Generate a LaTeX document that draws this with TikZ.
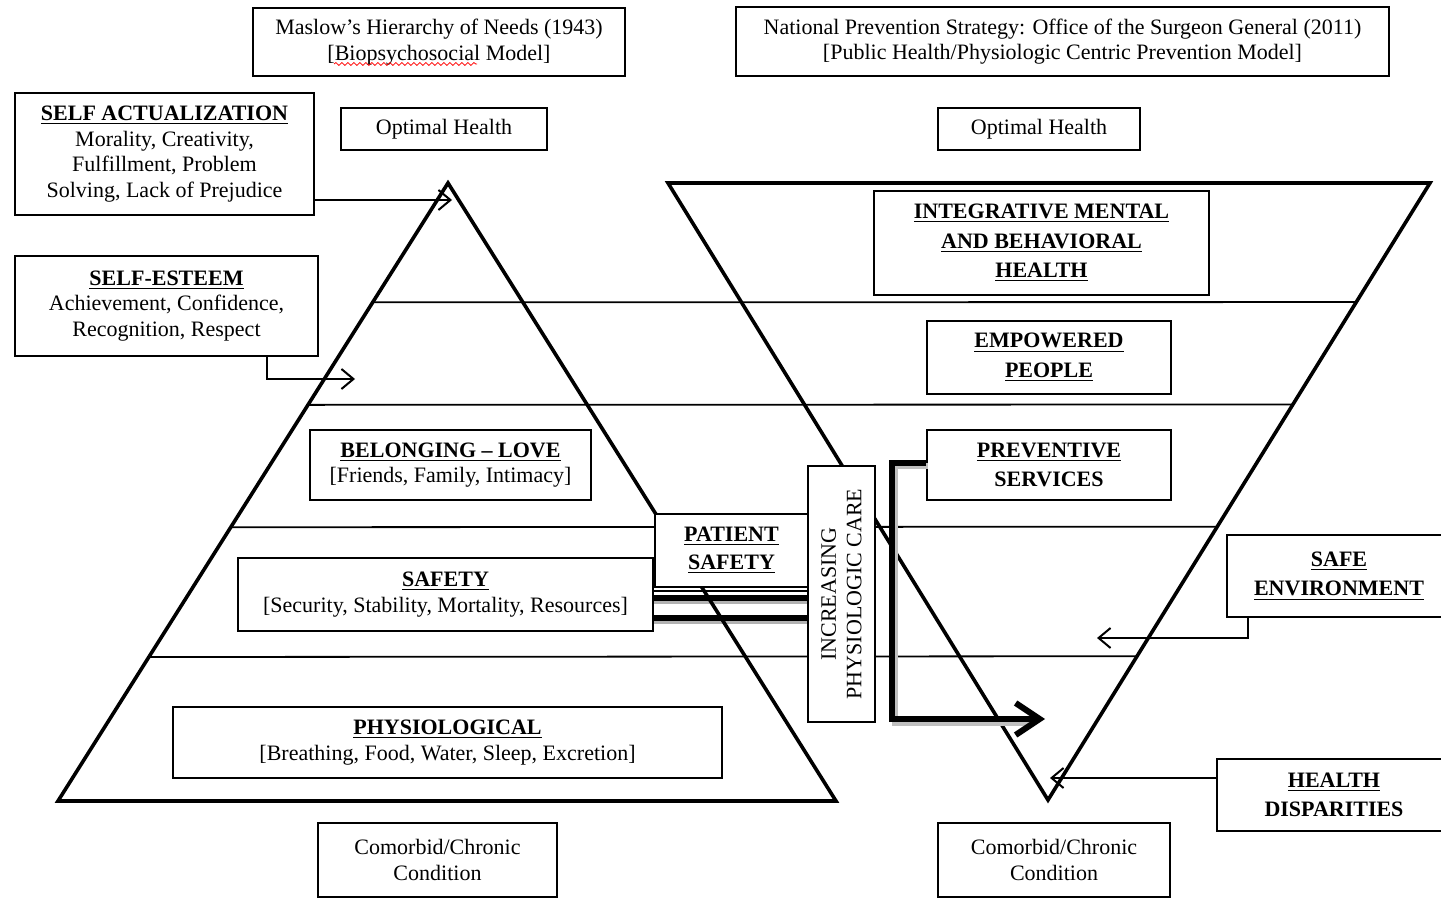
\documentclass[tikz,border=0pt]{standalone}
\usepackage{fontspec}
\setmainfont{Liberation Serif}
\usetikzlibrary{arrows.meta,calc,decorations.pathmorphing}

\begin{document}
\begin{tikzpicture}[x=0.5pt,y=-0.5pt,
	font=\fontsize{11pt}{12.8pt}\selectfont,
	box/.style={draw,fill=white,line width=0.9pt,align=center,inner sep=0pt},
	band/.style={line width=0.9pt},
	side/.style={line width=1.8pt,line join=miter},
	wide/.style={line width=3pt},
	barb/.style={-{Straight Barb[length=6pt,width=10pt]},line width=1pt},
	bigarrow/.style={-{Straight Barb[length=12pt,width=16pt]},line width=3pt,line join=miter}]
\useasboundingbox (0,0) rectangle (1441,898);
%
	\coordinate (apexL) at (448,183);
	\coordinate (baseLL) at (58,801);
	\coordinate (baseLR) at (836,801);
	\coordinate (topRL) at (668,183);
	\coordinate (topRR) at (1430,183);
	\coordinate (apexR) at (1048,800);
%
	\foreach \t in {0.193,0.359,0.557,0.767}
		\draw[band] ($(apexL)!\t!(baseLL)$) -- ($(topRR)!\t!(apexR)$);
%
	\node[box,draw=none,fill=none,minimum width=207.5pt,minimum height=36.5pt] (safetyA) at (445.5,594.5) {};
	\node[box,draw=none,fill=none,rotate=90,minimum width=128pt,minimum height=33.5pt] (incrA) at (841.5,594) {};
	\draw[line width=0.7pt] ($(safetyA.east)+(0,-3.5)$) -- ($(safetyA.east -| incrA.south)+(0,-3.5)$);
	\draw[black!30,wide] ($(safetyA.east)+(0,6.5)$) -- ($(safetyA.east -| incrA.south)+(0,6.5)$);
	\draw[black!30,wide] ($(safetyA.east)+(0,26.5)$) -- ($(safetyA.east -| incrA.south)+(0,26.5)$);
	\draw[wide] ($(safetyA.east)+(0,3.5)$) -- ($(safetyA.east -| incrA.south)+(0,3.5)$);
	\draw[wide] ($(safetyA.east)+(0,23.5)$) -- ($(safetyA.east -| incrA.south)+(0,23.5)$);
%
	\draw[side] (apexL) -- (baseLR) -- (baseLL) -- cycle;
	\draw[side] (topRL) -- (topRR) -- (apexR) -- cycle;
%
	\node[box,minimum width=186pt,minimum height=34pt] (maslow) at (439,42)
		{Maslow’s Hierarchy of Needs (1943)\\{[}Biopsychosocial Model{]}};
	\draw[red,line width=0.4pt,decorate,decoration={snake,amplitude=0.7pt,segment length=3pt}]
		(334,64) -- (477,64);
	\node[box,minimum width=326.5pt,minimum height=34.5pt] (nps) at (1062.5,41.5)
		{National Prevention Strategy: Office of the Surgeon General (2011)\\{[}Public Health/Physiologic Centric Prevention Model{]}};
	\node[box,minimum width=103pt,minimum height=21pt] (optL) at (444,129) {Optimal Health};
	\node[box,minimum width=101pt,minimum height=21pt] (optR) at (1039,129) {Optimal Health};
%
	\node[box,minimum width=149.5pt,minimum height=61pt] (selfact) at (164.5,154)
		{\underline{\textbf{SELF ACTUALIZATION}}\\Morality, Creativity,\\Fulfillment, Problem\\Solving, Lack of Prejudice};
	\node[box,minimum width=151.5pt,minimum height=50pt] (selfest) at (166.5,306)
		{\underline{\textbf{SELF-ESTEEM}}\\Achievement, Confidence,\\Recognition, Respect};
	\node[box,minimum width=140.5pt,minimum height=35pt] (belong) at (450.5,465)
		{\underline{\textbf{BELONGING – LOVE}}\\{[}Friends, Family, Intimacy{]}};
	\node[box,minimum width=207.5pt,minimum height=36.5pt] (safety) at (445.5,594.5)
		{\underline{\textbf{SAFETY}}\\{[}Security, Stability, Mortality, Resources{]}};
	\node[box,minimum width=274.5pt,minimum height=35.5pt] (physio) at (447.5,742.5)
		{\underline{\textbf{PHYSIOLOGICAL}}\\{[}Breathing, Food, Water, Sleep, Excretion{]}};
	\node[box,minimum width=119.5pt,minimum height=37pt] (comL) at (437.5,860)
		{Comorbid/Chronic\\Condition};
%
	\node[box,minimum width=76.5pt,minimum height=36.5pt] (patsafe) at (731.5,550.5)
		{\underline{\textbf{PATIENT}}\\[1pt]\underline{\textbf{SAFETY}}};
	\node[box,rotate=90,minimum width=128pt,minimum height=33.5pt] (incr) at (841.5,594)
		{INCREASING\\PHYSIOLOGIC CARE};
%
	\node[box,minimum width=167.5pt,minimum height=52pt] (integ) at (1041.5,243)
		{\underline{\textbf{INTEGRATIVE MENTAL}}\\[2pt]\underline{\textbf{AND BEHAVIORAL}}\\[2pt]\underline{\textbf{HEALTH}}};
	\node[box,minimum width=122pt,minimum height=36.5pt] (empow) at (1049,357.5)
		{\underline{\textbf{EMPOWERED}}\\[2pt]\underline{\textbf{PEOPLE}}};
	\node[box,minimum width=122pt,minimum height=35pt] (prevent) at (1049,465)
		{\underline{\textbf{PREVENTIVE}}\\[2pt]\textbf{SERVICES}};
	\node[box,minimum width=112pt,minimum height=41pt] (safeenv) at (1339,576)
		{\underline{\textbf{SAFE}}\\[2pt]\underline{\textbf{ENVIRONMENT}}};
	\node[box,minimum width=117pt,minimum height=36pt] (healthdisp) at (1334,795)
		{\underline{\textbf{HEALTH}}\\[2pt]\textbf{DISPARITIES}};
	\node[box,minimum width=116pt,minimum height=37pt] (comR) at (1054,860)
		{Comorbid/Chronic\\Condition};
%
	\coordinate (saTip) at (452,200);
	\coordinate (seTip) at (355,379);
	\coordinate (envTip) at (1097,638);
	\coordinate (hdTip) at (1050,778);
	\coordinate (bigTip) at (1045,719);
	\draw[barb] (selfact.east |- saTip) -- (saTip);
	\draw[barb] ($(selfest.south east)+(-52,0)$) |- (seTip);
	\draw[barb] ($(safeenv.south west)+(22,0)$) |- (envTip);
	\draw[barb] (healthdisp.west |- hdTip) -- (hdTip);
	\draw[black!25,line width=3pt,line join=miter] ($(prevent.west)+(2,1)$) -- ++(-33,0) |- ($(bigTip)+(-16,4)$);
	\draw[bigarrow] ($(prevent.west)+(0,-2)$) -- ++(-34,0) |- (bigTip);
\end{tikzpicture}
\end{document}
